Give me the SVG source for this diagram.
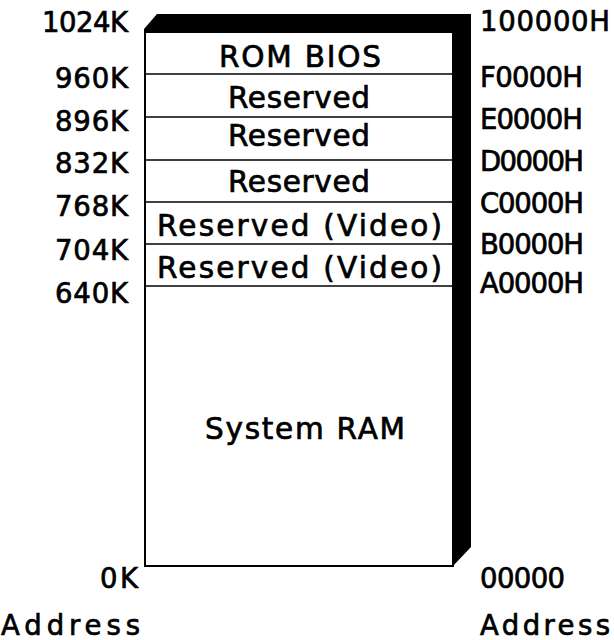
<svg xmlns="http://www.w3.org/2000/svg" width="614" height="640" viewBox="0 0 614 640">
<style>
text{font-family:"DejaVu Sans","Liberation Sans",sans-serif;font-size:27.5px;fill:#000;stroke:#000;stroke-width:0.7}
.big{font-size:29.5px}
.mid{text-anchor:middle}
.end{text-anchor:end}
.sep{stroke:#000;stroke-width:1.6}
.box{fill:#fff;stroke:#000;stroke-width:2}
</style>
<rect width="614" height="640" fill="#fff"/>
<g id="frame">
<polygon points="144,32 144,29 157,14 471,14 471,547 453,566 453,32" fill="#000"/>
<rect class="box" x="145" y="32" width="308" height="534"/>
</g>
<g id="rom-bios"><text class="mid big" x="300" y="67" textLength="162" lengthAdjust="spacing">ROM BIOS</text></g>
<g id="reserved-e"><line class="sep" x1="145" y1="74" x2="453" y2="74"/><text class="mid big" x="299" y="108" textLength="142" lengthAdjust="spacing">Reserved</text></g>
<g id="reserved-d"><line class="sep" x1="145" y1="117" x2="453" y2="117"/><text class="mid big" x="299" y="146" textLength="142" lengthAdjust="spacing">Reserved</text></g>
<g id="reserved-c"><line class="sep" x1="145" y1="160" x2="453" y2="160"/><text class="mid big" x="299" y="192" textLength="142" lengthAdjust="spacing">Reserved</text></g>
<g id="reserved-video-b"><line class="sep" x1="145" y1="202" x2="453" y2="202"/><text class="mid big" x="299.5" y="236" textLength="285" lengthAdjust="spacing">Reserved (Video)</text></g>
<g id="reserved-video-a"><line class="sep" x1="145" y1="244" x2="453" y2="244"/><text class="mid big" x="299.5" y="278" textLength="285" lengthAdjust="spacing">Reserved (Video)</text></g>
<g id="system-ram"><line class="sep" x1="145" y1="286" x2="453" y2="286"/><text class="mid big" x="305" y="439" textLength="200" lengthAdjust="spacing">System RAM</text></g>
<g id="left-labels">
<text class="end" x="128" y="32" textLength="86" lengthAdjust="spacing">1024K</text>
<text class="end" x="128" y="88" textLength="73" lengthAdjust="spacing">960K</text>
<text class="end" x="128" y="131" textLength="73" lengthAdjust="spacing">896K</text>
<text class="end" x="128" y="173" textLength="73" lengthAdjust="spacing">832K</text>
<text class="end" x="128" y="216" textLength="73" lengthAdjust="spacing">768K</text>
<text class="end" x="128" y="260" textLength="73" lengthAdjust="spacing">704K</text>
<text class="end" x="128" y="303" textLength="73" lengthAdjust="spacing">640K</text>
<text class="end" x="138" y="588" textLength="38" lengthAdjust="spacing">0K</text>
<text x="1" y="635" textLength="139" lengthAdjust="spacing">Address</text>
</g>
<g id="right-labels">
<text x="480" y="31" textLength="130" lengthAdjust="spacing">100000H</text>
<text x="480" y="87" textLength="103" lengthAdjust="spacing">F0000H</text>
<text x="480" y="129" textLength="103" lengthAdjust="spacing">E0000H</text>
<text x="480" y="171" textLength="104" lengthAdjust="spacing">D0000H</text>
<text x="480" y="213" textLength="104" lengthAdjust="spacing">C0000H</text>
<text x="480" y="254" textLength="104" lengthAdjust="spacing">B0000H</text>
<text x="480" y="293" textLength="104" lengthAdjust="spacing">A0000H</text>
<text x="480" y="588" textLength="85" lengthAdjust="spacing">00000</text>
<text x="480" y="635" textLength="130" lengthAdjust="spacing">Address</text>
</g>
<g id="connectors"></g>
</svg>
